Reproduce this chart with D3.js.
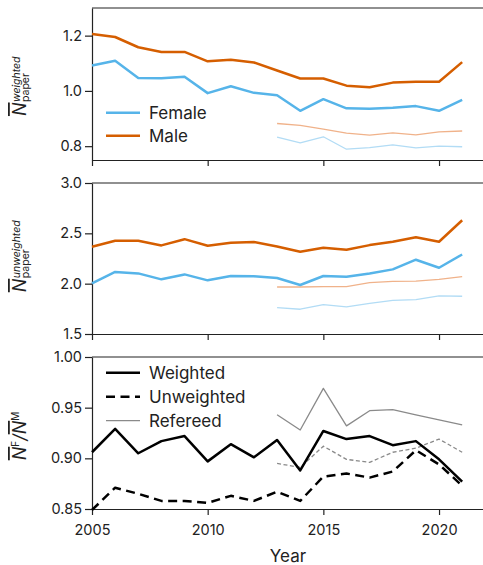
<!DOCTYPE html>
<html lang="en">
<head>
<meta charset="UTF-8">
<title>Papers per author by gender</title>
<script src="https://cdn.jsdelivr.net/npm/d3@7"></script>
<style>
  body { margin: 0; background: #fff; }
  text { font-family: Inter, "Noto Sans", sans-serif; fill: #222; }
</style>
</head>
<body>
<svg width="483" height="565"></svg>
<script>

// ---- data ----
const years = [2005, 2006, 2007, 2008, 2009, 2010, 2011, 2012, 2013, 2014, 2015, 2016, 2017, 2018, 2019, 2020, 2021];
const refYears = [2013, 2014, 2015, 2016, 2017, 2018, 2019, 2020, 2021];

// weighted papers per author
const maleWeighted   = [1.206, 1.195, 1.158, 1.141, 1.141, 1.107, 1.113, 1.103, 1.074, 1.045, 1.045, 1.019, 1.013, 1.030, 1.033, 1.033, 1.104];
const femaleWeighted = [1.092, 1.109, 1.047, 1.046, 1.051, 0.992, 1.017, 0.993, 0.984, 0.928, 0.970, 0.937, 0.935, 0.939, 0.945, 0.928, 0.968];
const maleWeightedRef   = [0.882, 0.875, 0.862, 0.847, 0.840, 0.848, 0.841, 0.852, 0.855];
const femaleWeightedRef = [0.833, 0.812, 0.834, 0.789, 0.795, 0.805, 0.794, 0.800, 0.798];

// unweighted papers per author
const maleUnweighted   = [2.366, 2.426, 2.426, 2.380, 2.442, 2.376, 2.406, 2.413, 2.370, 2.317, 2.356, 2.337, 2.383, 2.416, 2.462, 2.416, 2.630];
const femaleUnweighted = [2.003, 2.116, 2.102, 2.043, 2.092, 2.033, 2.076, 2.073, 2.056, 1.987, 2.076, 2.069, 2.102, 2.142, 2.238, 2.158, 2.290];
const maleUnweightedRef   = [1.967, 1.967, 1.970, 1.970, 2.010, 2.023, 2.026, 2.043, 2.069];
const femaleUnweightedRef = [1.762, 1.746, 1.792, 1.769, 1.805, 1.835, 1.842, 1.878, 1.875];

// female / male ratio
const ratioWeighted   = [0.906, 0.929, 0.905, 0.917, 0.922, 0.897, 0.914, 0.901, 0.918, 0.888, 0.927, 0.919, 0.922, 0.913, 0.917, 0.899, 0.877];
const ratioUnweighted = [0.849, 0.871, 0.865, 0.858, 0.858, 0.856, 0.863, 0.858, 0.867, 0.858, 0.882, 0.885, 0.881, 0.887, 0.908, 0.894, 0.873];
const ratioWeightedRef   = [0.943, 0.928, 0.969, 0.932, 0.947, 0.948, 0.943, 0.938, 0.933];
const ratioUnweightedRef = [0.895, 0.891, 0.912, 0.899, 0.896, 0.906, 0.910, 0.919, 0.906];

const xTicks = [2005, 2010, 2015, 2020];
const ticks1 = [0.8, 1.0, 1.2];
const ticks2 = [1.5, 2.0, 2.5, 3.0];
const ticks3 = [0.85, 0.90, 0.95, 1.00];

// ---- setup ----
const svg = d3.select("svg"),
    width = +svg.attr("width");

const blue = "#56b4e9", orange = "#d55e00",
    lightBlue = "#b2dcf5", lightOrange = "#f0b28a",
    grey = "#8a8a8a", axisCol = "#222";

const x = d3.scaleLinear().domain([2005, 2022]).range([92, 485.3]);

const panels = [
    { top: 8,   bottom: 160, domain: [0.75, 1.3], ticks: ticks1, fmt: ".1f" },
    { top: 183, bottom: 334, domain: [1.5, 3.0],  ticks: ticks2, fmt: ".1f" },
    { top: 357, bottom: 509, domain: [0.85, 1.0], ticks: ticks3, fmt: ".2f" }
];

panels.forEach(function (p, i) {
    p.y = d3.scaleLinear().domain(p.domain).range([p.bottom, p.top]);

    // top spine
    svg.append("line")
        .attr("x1", x.range()[0]).attr("x2", width)
        .attr("y1", p.top).attr("y2", p.top)
        .attr("stroke", axisCol).attr("stroke-width", 1.2);

    const ax = svg.append("g")
        .attr("transform", `translate(${x.range()[0]},0)`)
        .call(d3.axisLeft(p.y).tickValues(p.ticks).tickFormat(d3.format(p.fmt))
            .tickSize(7).tickPadding(3).tickSizeOuter(0));

    const bx = svg.append("g")
        .attr("transform", `translate(0,${p.bottom})`)
        .call(d3.axisBottom(x).tickValues(xTicks).tickFormat(i === 2 ? d3.format("d") : "")
            .tickSize(6).tickPadding(10).tickSizeOuter(0));

    [ax, bx].forEach(function (a) {
        a.selectAll("path, line").attr("stroke", axisCol).attr("stroke-width", 1.2);
        a.selectAll("text").attr("font-size", 14.5).attr("fill", "#222")
            .style("font-family", "Inter, sans-serif");
    });
});

function drawLine(p, xs, ys, color, w, dash) {
    const line = d3.line()
        .x(function (d, i) { return x(xs[i]); })
        .y(function (d) { return p.y(d); });
    svg.append("path")
        .datum(ys)
        .attr("d", line)
        .attr("fill", "none")
        .attr("stroke", color)
        .attr("stroke-width", w)
        .attr("stroke-linejoin", "round")
        .attr("stroke-dasharray", dash || null);
}

// panel 1: weighted
drawLine(panels[0], refYears, maleWeightedRef, lightOrange, 1.3);
drawLine(panels[0], refYears, femaleWeightedRef, lightBlue, 1.3);
drawLine(panels[0], years, maleWeighted, orange, 2.5);
drawLine(panels[0], years, femaleWeighted, blue, 2.5);

// panel 2: unweighted
drawLine(panels[1], refYears, maleUnweightedRef, lightOrange, 1.3);
drawLine(panels[1], refYears, femaleUnweightedRef, lightBlue, 1.3);
drawLine(panels[1], years, maleUnweighted, orange, 2.5);
drawLine(panels[1], years, femaleUnweighted, blue, 2.5);

// panel 3: ratios
drawLine(panels[2], refYears, ratioWeightedRef, grey, 1.3);
drawLine(panels[2], refYears, ratioUnweightedRef, grey, 1.3, "4,2.5");
drawLine(panels[2], years, ratioWeighted, "#000", 2.5);
drawLine(panels[2], years, ratioUnweighted, "#000", 2.5, "9,5.5");

// legends
function legend(items, y0, step) {
    items.forEach(function (d, i) {
        const yy = y0 + i * step;
        svg.append("line")
            .attr("x1", 106).attr("x2", 140).attr("y1", yy).attr("y2", yy)
            .attr("stroke", d.color).attr("stroke-width", d.w)
            .attr("stroke-dasharray", d.dash || null);
        svg.append("text")
            .attr("x", 149).attr("y", yy).attr("dy", "0.36em")
            .attr("font-size", 17).text(d.name);
    });
}
legend([
    { name: "Female", color: blue, w: 2.5 },
    { name: "Male", color: orange, w: 2.5 }
], 112.7, 23);
legend([
    { name: "Weighted", color: "#000", w: 2.5 },
    { name: "Unweighted", color: "#000", w: 2.5, dash: "9,5.5" },
    { name: "Refereed", color: grey, w: 1.3 }
], 372.7, 24);

// y labels (rotated)
function paperLabel(cy, sup) {
    const g = svg.append("g").attr("transform", `translate(26,${cy}) rotate(-90)`);
    const t = g.append("text");
    const n = t.append("tspan").attr("font-size", 18).attr("font-style", "italic")
        .style("text-decoration", "overline").text("N");
    const wN = n.node().getComputedTextLength();
    t.append("tspan").attr("x", wN + 0.5).attr("y", -6.5).attr("font-size", 10.5)
        .attr("font-style", "italic").text(sup);
    t.append("tspan").attr("x", wN + 0.5).attr("y", 2.5).attr("font-size", 10.5).text("paper");
    const bb = t.node().getBBox();
    t.attr("transform", `translate(${-bb.width / 2},0)`);
}
paperLabel(86, "weighted");
paperLabel(256, "unweighted");

(function ratioLabel(cy) {
    const g = svg.append("g").attr("transform", `translate(26,${cy}) rotate(-90)`);
    const t = g.append("text");
    t.append("tspan").attr("font-size", 18).attr("font-style", "italic")
        .style("text-decoration", "overline").text("N");
    t.append("tspan").attr("font-size", 10).attr("dy", -7).text("F");
    t.append("tspan").attr("font-size", 18).attr("dy", 7).attr("font-style", "italic").text("/");
    t.append("tspan").attr("font-size", 18).attr("font-style", "italic")
        .style("text-decoration", "overline").text("N");
    t.append("tspan").attr("font-size", 10).attr("dy", -7).text("M");
    const bb = t.node().getBBox();
    t.attr("transform", `translate(${-bb.width / 2},0)`);
})(436);

// x axis title
svg.append("text")
    .attr("x", 288).attr("y", 562)
    .attr("text-anchor", "middle")
    .attr("font-size", 17)
    .text("Year");

</script>
</body>
</html>
